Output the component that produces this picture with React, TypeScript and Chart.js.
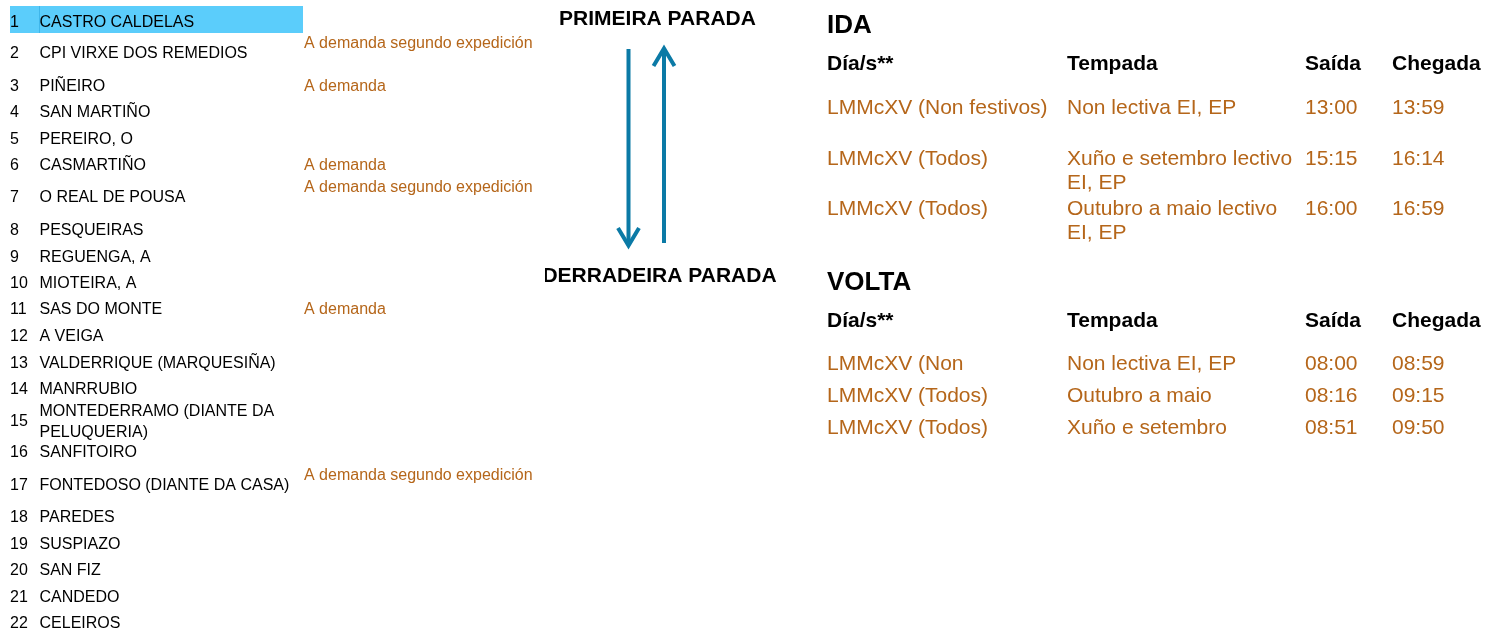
import React, { useEffect, useRef } from 'react';
import { Chart, registerables } from 'chart.js';

Chart.register(...registerables);

// ---------- DATA ----------
const stopNumbers = ['1', '2', '3', '4', '5', '6', '7', '8', '9', '10', '11', '12', '13', '14', '15', '16', '17', '18', '19', '20', '21', '22'];
const stopNames = [
  'CASTRO CALDELAS',
  'CPI VIRXE DOS REMEDIOS',
  'PIÑEIRO',
  'SAN MARTIÑO',
  'PEREIRO, O',
  'CASMARTIÑO',
  'O REAL DE POUSA',
  'PESQUEIRAS',
  'REGUENGA, A',
  'MIOTEIRA, A',
  'SAS DO MONTE',
  'A VEIGA',
  'VALDERRIQUE (MARQUESIÑA)',
  'MANRRUBIO',
  'MONTEDERRAMO (DIANTE DA PELUQUERIA)',
  'SANFITOIRO',
  'FONTEDOSO (DIANTE DA CASA)',
  'PAREDES',
  'SUSPIAZO',
  'SAN FIZ',
  'CANDEDO',
  'CELEIROS',
];
const stopNotes = [
  '', 'A demanda segundo expedición', 'A demanda', '', '', 'A demanda', 'A demanda segundo expedición',
  '', '', '', 'A demanda', '', '', '', '', '', 'A demanda segundo expedición', '', '', '', '', '',
];
const routeLabels = ['PRIMEIRA PARADA', 'DERRADEIRA PARADA'];
const tableTitles = ['IDA', 'VOLTA'];
const tableHeaders = ['Día/s**', 'Tempada', 'Saída', 'Chegada'];

const idaDays = ['LMMcXV (Non festivos)', 'LMMcXV (Todos)', 'LMMcXV (Todos)'];
const idaSeasons = ['Non lectiva EI, EP', 'Xuño e setembro lectivo EI, EP', 'Outubro a maio lectivo EI, EP'];
const idaDepartures = ['13:00', '15:15', '16:00'];
const idaArrivals = ['13:59', '16:14', '16:59'];

const voltaDays = ['LMMcXV (Non festivos)', 'LMMcXV (Todos)', 'LMMcXV (Todos)'];
const voltaSeasons = ['Non lectiva EI, EP', 'Outubro a maio', 'Xuño e setembro'];
const voltaDepartures = ['08:00', '08:16', '08:51'];
const voltaArrivals = ['08:59', '09:15', '09:50'];

// ---------- LAYOUT / STYLE ----------
const W = 1485;
const H = 629;
const FONT = '"Liberation Sans", Arial, Helvetica, sans-serif';
const ORANGE = '#b5661a';
const BLUE = '#0b7aa6';
const HIGHLIGHT = '#5bcdfb';

const stopBaselines = [26.5, 58, 90.5, 117, 143.5, 170, 202, 235, 261.7, 287.7, 314.3, 341, 367.6, 394.3, 416, 457.3, 490, 521.7, 549, 575, 601.7, 628.3];
const stopLayout = { numX: 10, nameX: 39.5, nameWidth: 262, noteX: 304, size: 16, lineH: 20.5, longNoteShift: 10 };
const highlightBox = { x: 10, y: 6, w: 293, h: 27, divider: 39 };

const routeLayout = { topCx: 657.5, bottomCx: 659.5, clipX: 545, topBase: 25, bottomBase: 281.7, size: 21 };
const arrowLayout = { downX: 628.5, downTop: 49, downTip: 247, upX: 664, upTip: 47, upBottom: 243, width: 4, armDx: 10.5, armDy: 19 };

const colX = [827, 1067, 1305, 1392];
const tableLayouts = [
  { titleBase: 33.3, headerBase: 69.5, rowBases: [113.5, 164.5, 214.5], maxLines: 2, colW: [236, 232, 85, 90] },
  { titleBase: 290.3, headerBase: 326.5, rowBases: [369.5, 401.5, 433.5], maxLines: 1, colW: [215, 232, 85, 90] },
];
const tableSize = 21;
const titleSize = 26;
const tableLineH = 24.5;

function wrap(ctx: CanvasRenderingContext2D, text: string, maxW: number): string[] {
  const words = text.split(' ');
  const lines: string[] = [];
  let cur = '';
  for (const w of words) {
    const test = cur ? cur + ' ' + w : w;
    if (cur && ctx.measureText(test).width > maxW) {
      lines.push(cur);
      cur = w;
    } else {
      cur = test;
    }
  }
  if (cur) lines.push(cur);
  return lines;
}

export default function App() {
  const ref = useRef<HTMLCanvasElement>(null);

  useEffect(() => {
    const canvas = ref.current;
    if (!canvas) return;

    const timetable = {
      id: 'timetable',
      afterDraw(chart: any) {
        const ctx: CanvasRenderingContext2D = chart.ctx;
        const sx = chart.scales.x;
        const sy = chart.scales.y;
        const px = (v: number) => sx.getPixelForValue(v);
        const py = (v: number) => sy.getPixelForValue(v);
        ctx.save();
        ctx.textBaseline = 'alphabetic';
        ctx.textAlign = 'left';

        // highlight of first stop
        ctx.fillStyle = HIGHLIGHT;
        ctx.fillRect(px(highlightBox.x), py(highlightBox.y), highlightBox.w, highlightBox.h);
        ctx.fillStyle = '#3fb6ea';
        ctx.fillRect(px(highlightBox.divider), py(highlightBox.y), 1, highlightBox.h);

        // stop list
        ctx.font = `${stopLayout.size}px ${FONT}`;
        stopNames.forEach((name, i) => {
          const base = stopBaselines[i];
          const lines = wrap(ctx, name, stopLayout.nameWidth);
          ctx.fillStyle = '#000';
          lines.forEach((ln, k) => ctx.fillText(ln, px(stopLayout.nameX), py(base + k * stopLayout.lineH)));
          const numBase = base + ((lines.length - 1) * stopLayout.lineH) / 2;
          ctx.fillText(stopNumbers[i], px(stopLayout.numX), py(numBase));
          const note = stopNotes[i];
          if (note) {
            ctx.fillStyle = ORANGE;
            const shift = note.length > 12 ? stopLayout.longNoteShift : 0;
            ctx.fillText(note, px(stopLayout.noteX), py(base - shift));
          }
        });

        // route labels (clipped at column edge)
        ctx.save();
        ctx.beginPath();
        ctx.rect(px(routeLayout.clipX), 0, W, H);
        ctx.clip();
        ctx.font = `bold ${routeLayout.size}px ${FONT}`;
        ctx.fillStyle = '#000';
        ctx.textAlign = 'center';
        ctx.fillText(routeLabels[0], px(routeLayout.topCx), py(routeLayout.topBase));
        ctx.fillText(routeLabels[1], px(routeLayout.bottomCx), py(routeLayout.bottomBase));
        ctx.restore();

        // arrows
        const a = arrowLayout;
        ctx.strokeStyle = BLUE;
        ctx.lineWidth = a.width;
        ctx.lineCap = 'butt';
        ctx.lineJoin = 'miter';
        ctx.beginPath();
        ctx.moveTo(px(a.downX), py(a.downTop));
        ctx.lineTo(px(a.downX), py(a.downTip - 2));
        ctx.stroke();
        ctx.beginPath();
        ctx.moveTo(px(a.downX - a.armDx), py(a.downTip - a.armDy));
        ctx.lineTo(px(a.downX), py(a.downTip - 1.5));
        ctx.lineTo(px(a.downX + a.armDx), py(a.downTip - a.armDy));
        ctx.stroke();
        ctx.beginPath();
        ctx.moveTo(px(a.upX), py(a.upBottom));
        ctx.lineTo(px(a.upX), py(a.upTip + 2));
        ctx.stroke();
        ctx.beginPath();
        ctx.moveTo(px(a.upX - a.armDx), py(a.upTip + a.armDy));
        ctx.lineTo(px(a.upX), py(a.upTip + 1.5));
        ctx.lineTo(px(a.upX + a.armDx), py(a.upTip + a.armDy));
        ctx.stroke();

        // timetables
        const tables = [
          [idaDays, idaSeasons, idaDepartures, idaArrivals],
          [voltaDays, voltaSeasons, voltaDepartures, voltaArrivals],
        ];
        ctx.textAlign = 'left';
        tables.forEach((cols, t) => {
          const L = tableLayouts[t];
          ctx.fillStyle = '#000';
          ctx.font = `bold ${titleSize}px ${FONT}`;
          ctx.fillText(tableTitles[t], px(colX[0]), py(L.titleBase));
          ctx.font = `bold ${tableSize}px ${FONT}`;
          tableHeaders.forEach((h, c) => ctx.fillText(h, px(colX[c]), py(L.headerBase)));
          ctx.font = `${tableSize}px ${FONT}`;
          ctx.fillStyle = ORANGE;
          L.rowBases.forEach((base, r) => {
            cols.forEach((col, c) => {
              const lines = wrap(ctx, col[r], L.colW[c]).slice(0, L.maxLines);
              lines.forEach((ln, k) => ctx.fillText(ln, px(colX[c]), py(base + k * tableLineH)));
            });
          });
        });

        ctx.restore();
      },
    };

    const chart = new Chart(canvas, {
      type: 'scatter',
      data: { datasets: [] },
      options: {
        animation: false,
        responsive: false,
        devicePixelRatio: 1,
        events: [],
        layout: { padding: 0 },
        plugins: { legend: { display: false }, tooltip: { enabled: false }, title: { display: false } },
        scales: {
          x: { type: 'linear', min: 0, max: W, display: false },
          y: { type: 'linear', min: 0, max: H, reverse: true, display: false },
        },
      },
      plugins: [timetable],
    });
    return () => chart.destroy();
  }, []);

  return (
    <div style={{ position: 'absolute', left: 0, top: 0, width: W, height: H, background: '#fff' }}>
      <canvas ref={ref} width={W} height={H} style={{ display: 'block', width: W, height: H }} />
    </div>
  );
}
